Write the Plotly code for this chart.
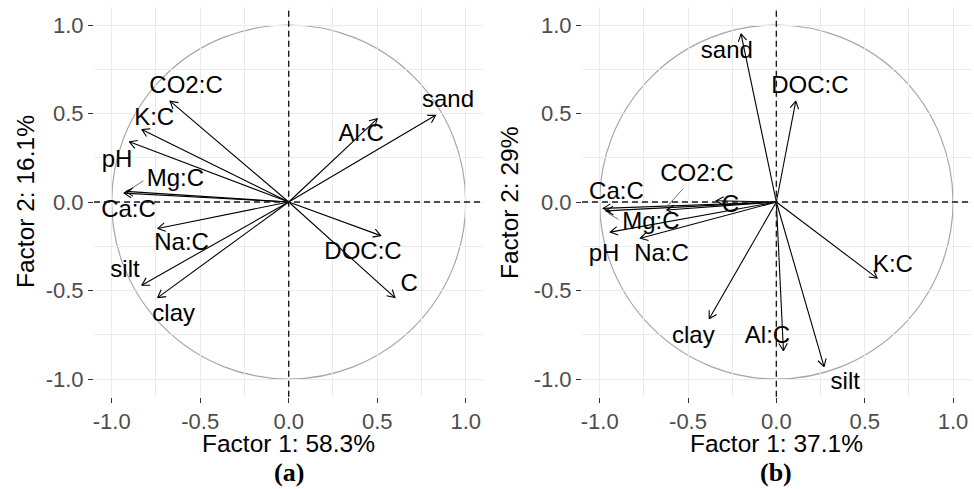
import numpy as np
import plotly.graph_objects as go

# ---------------- data ----------------
# Panel (a)
vars_a = ["CO2:C", "K:C", "pH", "Mg:C", "Ca:C", "Na:C", "silt", "clay", "Al:C", "sand", "DOC:C", "C"]
f1_a = [-0.67, -0.83, -0.90, -0.92, -0.93, -0.74, -0.83, -0.74, 0.50, 0.83, 0.52, 0.60]
f2_a = [0.57, 0.41, 0.34, 0.06, 0.05, -0.15, -0.47, -0.54, 0.47, 0.49, -0.19, -0.54]
lab_x_a = [-0.58, -0.76, -0.97, -0.64, -0.905, -0.605, -0.925, -0.65, 0.41, 0.90, 0.42, 0.68]
lab_y_a = [0.65, 0.47, 0.23, 0.125, -0.05, -0.235, -0.39, -0.64, 0.38, 0.57, -0.29, -0.47]

# Panel (b)
vars_b = ["sand", "DOC:C", "CO2:C", "C", "Ca:C", "Mg:C", "pH", "Na:C", "K:C", "clay", "Al:C", "silt"]
f1_b = [-0.20, 0.11, -0.62, -0.34, -0.98, -0.965, -0.94, -0.77, 0.57, -0.38, 0.04, 0.27]
f2_b = [0.95, 0.57, -0.045, 0.007, -0.036, -0.05, -0.17, -0.205, -0.43, -0.66, -0.84, -0.93]
lab_x_b = [-0.28, 0.19, -0.45, -0.26, -0.905, -0.71, -0.975, -0.65, 0.66, -0.47, -0.05, 0.39]
lab_y_b = [0.85, 0.65, 0.15, -0.02, 0.05, -0.12, -0.30, -0.30, -0.36, -0.765, -0.765, -1.02]

# label leader segments (label side -> point side)
seg_a = dict(x0=[-0.821], y0=[0.12], x1=[-0.887], y1=[0.077])
seg_b = dict(x0=[-0.526, -0.894], y0=[0.077, -0.098], x1=[-0.611, -0.951], y1=[-0.017, -0.064])

x_title_a = "Factor 1: 58.3%"
y_title_a = "Factor 2: 16.1%"
x_title_b = "Factor 1: 37.1%"
y_title_b = "Factor 2: 29%"
panel_tags = ["(a)", "(b)"]

tick_vals = [-1.0, -0.5, 0.0, 0.5, 1.0]
tick_text = ["-1.0", "-0.5", "0.0", "0.5", "1.0"]
axis_range = [-1.1, 1.1]

FONT = "Liberation Sans"
W, H = 974, 489
HEAD_LEN = 0.048          # arrow barb length in axis units (axes have equal scale)
HEAD_ANG = np.deg2rad(30)

fig = go.Figure()

panels = [
    ("x", "y", vars_a, f1_a, f2_a, lab_x_a, lab_y_a, seg_a),
    ("x2", "y2", vars_b, f1_b, f2_b, lab_x_b, lab_y_b, seg_b),
]

annotations = []
shapes = []
for xr, yr, names, fx, fy, lx, ly, seg in panels:
    # unit circle
    shapes.append(dict(type="circle", xref=xr, yref=yr, x0=-1, y0=-1, x1=1, y1=1,
                       line=dict(color="#A6A6A6", width=1.2), layer="below"))
    # dashed reference lines
    shapes.append(dict(type="line", xref=xr, yref=yr + " domain", x0=0, x1=0, y0=0, y1=1,
                       line=dict(color="#1a1a1a", width=1.4, dash="6px,4px")))
    shapes.append(dict(type="line", xref=xr + " domain", yref=yr, x0=0, x1=1, y0=0, y1=0,
                       line=dict(color="#1a1a1a", width=1.4, dash="6px,4px")))
    # arrows: shaft + two barbs
    ax_, ay_ = [], []
    for px, py in zip(fx, fy):
        ang = np.arctan2(py, px)
        b1x = px - HEAD_LEN * np.cos(ang - HEAD_ANG)
        b1y = py - HEAD_LEN * np.sin(ang - HEAD_ANG)
        b2x = px - HEAD_LEN * np.cos(ang + HEAD_ANG)
        b2y = py - HEAD_LEN * np.sin(ang + HEAD_ANG)
        ax_ += [0, px, None, b1x, px, b2x, None]
        ay_ += [0, py, None, b1y, py, b2y, None]
    fig.add_trace(go.Scatter(x=ax_, y=ay_, xaxis=xr, yaxis=yr, mode="lines",
                             line=dict(color="black", width=1.1), hoverinfo="skip",
                             showlegend=False))
    # leader segments
    for a0, b0, a1, b1 in zip(seg["x0"], seg["y0"], seg["x1"], seg["y1"]):
        fig.add_trace(go.Scatter(x=[a0, a1], y=[b0, b1], xaxis=xr, yaxis=yr, mode="lines",
                                 line=dict(color="#333333", width=0.7), hoverinfo="skip",
                                 showlegend=False))
    # labels
    fig.add_trace(go.Scatter(x=lx, y=ly, xaxis=xr, yaxis=yr, mode="text", text=names,
                             textposition="middle center",
                             textfont=dict(family=FONT, size=24, color="black"),
                             hoverinfo="skip", showlegend=False))

# pixel geometry -> paper domains
xa_dom = [94 / W, 483.4 / W]
xb_dom = [582 / W, 970.7 / W]
y_dom = [1 - 396.7 / H, 1 - 7.3 / H]

def axis(dom, anchor):
    return dict(domain=dom, anchor=anchor, range=axis_range, tickmode="array",
                tickvals=tick_vals, ticktext=tick_text, showgrid=True, gridcolor="#EBEBEB",
                gridwidth=1.1, zeroline=False, showline=False, ticks="outside", ticklen=5,
                tickwidth=1.1, tickcolor="#333333",
                tickfont=dict(family=FONT, size=22, color="#4D4D4D"),
                minor=dict(dtick=0.25, tick0=0, showgrid=True, gridcolor="#EBEBEB",
                           gridwidth=0.6, ticks=""),
                fixedrange=True)

title_font = dict(family=FONT, size=24.5, color="black")
for cx, xt, yt, tag, ytx in [(288.7, x_title_a, y_title_a, panel_tags[0], 25),
                             (776.3, x_title_b, y_title_b, panel_tags[1], 509)]:
    annotations.append(dict(xref="paper", yref="paper", x=cx / W, y=1 - 443 / H, text=xt,
                            showarrow=False, font=title_font, xanchor="center", yanchor="middle"))
    annotations.append(dict(xref="paper", yref="paper", x=ytx / W, y=1 - 202 / H, text=yt,
                            showarrow=False, font=title_font, textangle=-90,
                            xanchor="center", yanchor="middle"))
    annotations.append(dict(xref="paper", yref="paper", x=cx / W, y=0,
                            text="<b>" + tag + "</b>", showarrow=False,
                            font=dict(family="Liberation Serif", size=26, color="black"),
                            xanchor="center", yanchor="bottom"))

fig.update_layout(
    width=W, height=H, autosize=False,
    margin=dict(l=0, r=0, t=0, b=0),
    paper_bgcolor="white", plot_bgcolor="white",
    xaxis=axis(xa_dom, "y"), yaxis=axis(y_dom, "x"),
    xaxis2=axis(xb_dom, "y2"), yaxis2=axis(y_dom, "x2"),
    annotations=annotations, shapes=shapes, showlegend=False,
)

fig.write_html("out.html")
